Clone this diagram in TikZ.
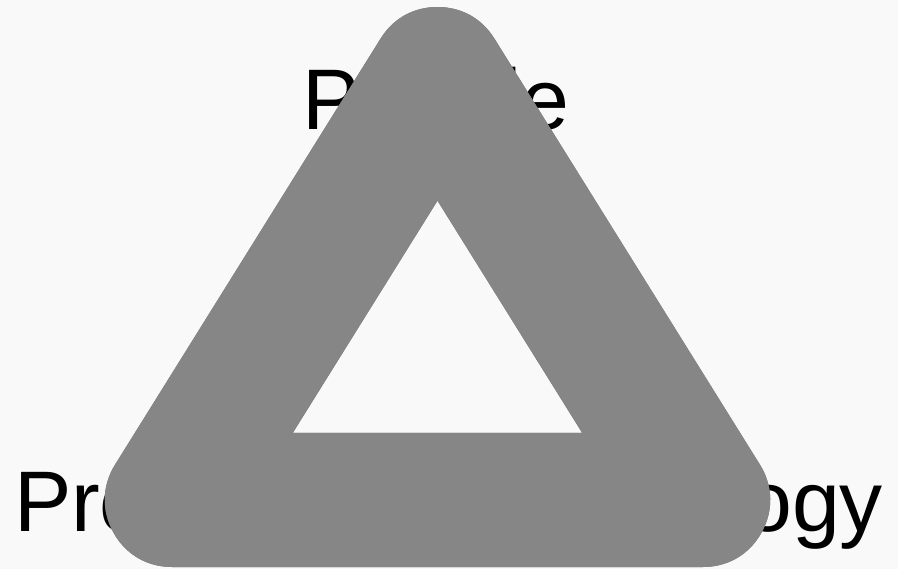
\documentclass[tikz,border=0pt]{standalone}
\usepackage{fontspec}
\setmainfont{Liberation Sans}
\definecolor{bgcol}{HTML}{F9F9F9}
\definecolor{bandcol}{HTML}{868686}
\definecolor{shadecol}{HTML}{6F6F6F}
\tikzset{
  label/.style={inner sep=0pt, outer sep=0pt, text=black, font=\fontsize{86}{90}\selectfont},
  band/.style={line width=134pt, line join=round, draw=bandcol},
  bandshadow/.style={line width=134pt, line join=round, draw=shadecol}
}
\begin{document}
\begin{tikzpicture}[x=1pt,y=-1pt]
  \fill[bgcol] (0,0) rectangle (898,569);
  \useasboundingbox (0,0) rectangle (898,569);
  \node[label, anchor=base west] (people) at (302,130) {People};
  \node[label, anchor=base west] (process) at (14,532) {Process};
  \node[label, anchor=base east] (technology) at (883,532) {Technology};
  \coordinate (top) at (437.5,74);
  \coordinate (left) at (172,500);
  \coordinate (right) at (703,500);
  \draw[bandshadow, xshift=4pt] (top) -- (left) -- (right) -- cycle;
  \draw[band] (top) -- (left) -- (right) -- cycle;
\end{tikzpicture}
\end{document}
